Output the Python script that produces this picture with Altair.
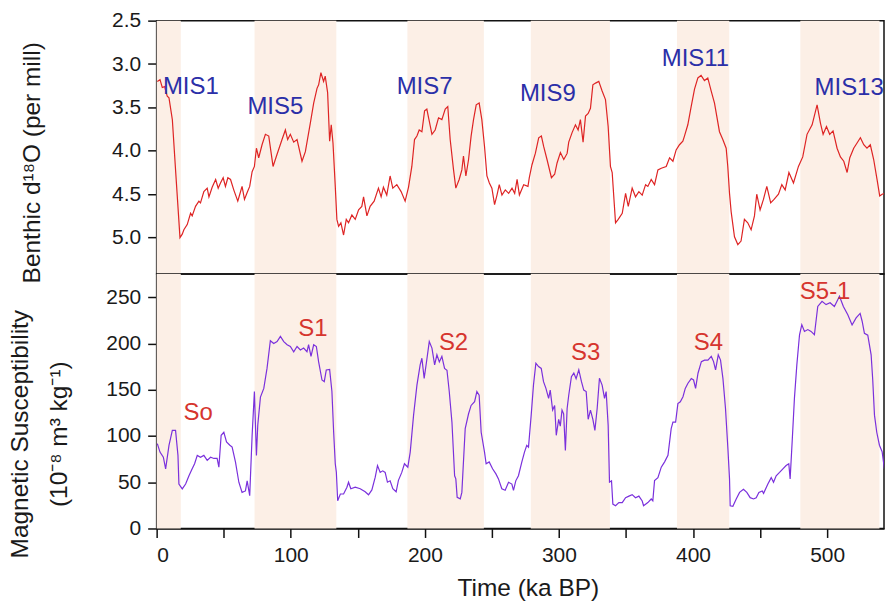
import altair as alt
import pandas as pd

# ---------------- data ----------------
benthic_age = [0.5, 2.5, 4.2, 5.9, 7.9, 9.2, 11.7, 14.1, 17.4, 19.1, 20.3, 22.8, 25.3, 26.5, 29.0, 31.5, 32.7, 35.2,
               37.7, 39.0, 41.4, 44.0, 45.9, 47.6, 49.6, 51.3, 53.1, 55.1, 57.5, 60.5, 62.0, 63.7, 65.5, 67.5, 69.4,
               71.2, 72.9, 74.4, 76.1, 78.6, 81.1, 83.6, 86.8, 89.8, 93.5, 96.0, 97.7, 99.7, 102.2, 104.7, 108.4,
               110.9, 114.6, 117.1, 119.6, 120.8, 122.5, 124.5, 125.7, 127.5, 129.0, 130.2, 131.5, 133.2, 134.4,
               135.7, 137.4, 139.4, 141.4, 143.1, 145.6, 148.1, 150.6, 153.0, 154.3, 156.8, 159.2, 162.2, 165.4,
               167.4, 169.1, 171.6, 174.1, 176.1, 179.1, 181.5, 182.3, 185.3, 187.8, 190.3, 192.3, 194.1, 195.8,
               197.8, 199.8, 201.5, 202.8, 205.3, 207.7, 210.2, 212.7, 215.2, 217.1, 218.9, 221.4, 223.1, 225.6,
               227.6, 228.8, 230.6, 232.6, 234.5, 236.3, 238.3, 240.5, 242.5, 244.5, 246.3, 248.1, 250.0, 252.0,
               253.8, 255.5, 257.5, 260.0, 262.5, 265.0, 267.0, 268.8, 270.5, 273.7, 276.9, 277.9, 279.9, 282.4,
               284.9, 286.9, 288.6, 291.1, 294.4, 296.8, 298.6, 301.1, 303.6, 306.1, 307.3, 309.8, 312.3, 314.3,
               316.0, 318.0, 319.8, 321.8, 323.5, 325.3, 327.3, 329.7, 332.2, 334.7, 336.7, 338.4, 339.7, 342.2,
               344.2, 347.2, 349.7, 351.7, 354.6, 357.1, 359.6, 362.1, 364.6, 366.3, 368.8, 371.3, 373.8, 376.3,
               380.0, 382.5, 385.0, 387.4, 389.9, 392.4, 393.6, 396.1, 398.6, 401.1, 403.6, 406.0, 408.5, 411.0,
               413.5, 416.0, 419.7, 422.2, 424.7, 425.9, 427.2, 428.4, 430.9, 433.4, 435.8, 438.3, 440.8, 443.3,
               445.8, 447.5, 450.0, 452.5, 455.0, 457.9, 460.4, 463.7, 466.2, 468.7, 471.5, 474.9, 478.6, 481.8,
               485.0, 488.8, 492.5, 495.0, 497.0, 499.5, 501.9, 504.4, 507.4, 509.9, 512.4, 514.9, 516.9, 519.8,
               522.3, 524.8, 527.3, 529.7, 532.2, 534.7, 537.2, 539.2, 541.0, 543.4]
benthic_d18o = [3.20, 3.18, 3.27, 3.26, 3.37, 3.39, 3.64, 4.22, 5.00, 4.96, 4.91, 4.85, 4.72, 4.75, 4.64, 4.58, 4.60,
                4.47, 4.43, 4.53, 4.42, 4.33, 4.43, 4.37, 4.31, 4.41, 4.31, 4.33, 4.45, 4.58, 4.50, 4.41, 4.56, 4.48,
                4.41, 4.24, 4.18, 3.97, 4.08, 3.93, 3.81, 3.83, 4.18, 4.04, 3.87, 3.76, 3.87, 3.81, 3.90, 3.87, 4.12,
                4.01, 3.68, 3.45, 3.28, 3.24, 3.10, 3.20, 3.14, 3.33, 3.89, 3.70, 3.91, 4.41, 4.79, 4.87, 4.83, 4.97,
                4.79, 4.83, 4.74, 4.79, 4.68, 4.64, 4.53, 4.75, 4.64, 4.58, 4.43, 4.53, 4.42, 4.51, 4.29, 4.43, 4.39,
                4.45, 4.47, 4.58, 4.42, 4.18, 3.87, 3.83, 3.76, 3.78, 3.54, 3.52, 3.62, 3.81, 3.76, 3.62, 3.64, 3.52,
                3.49, 3.87, 4.22, 4.43, 4.33, 4.22, 4.06, 4.29, 4.10, 3.83, 3.64, 3.47, 3.45, 3.64, 3.95, 4.29, 4.37,
                4.43, 4.62, 4.51, 4.39, 4.51, 4.45, 4.49, 4.43, 4.49, 4.33, 4.51, 4.39, 4.41, 4.31, 4.16, 4.03, 3.85,
                3.83, 3.95, 4.10, 4.31, 4.27, 4.14, 4.02, 4.10, 4.03, 3.90, 3.79, 3.70, 3.76, 3.64, 3.90, 3.60, 3.57,
                3.51, 3.24, 3.22, 3.20, 3.31, 3.41, 3.72, 4.18, 4.25, 4.83, 4.79, 4.72, 4.49, 4.64, 4.43, 4.53, 4.47,
                4.51, 4.39, 4.41, 4.33, 4.39, 4.22, 4.20, 4.18, 4.08, 4.12, 3.99, 3.93, 3.89, 3.83, 3.70, 3.49, 3.29,
                3.16, 3.13, 3.19, 3.16, 3.31, 3.45, 3.78, 3.87, 3.97, 4.18, 4.49, 4.70, 4.99, 5.08, 5.04, 4.79, 4.83,
                4.91, 4.75, 4.50, 4.68, 4.56, 4.41, 4.60, 4.56, 4.50, 4.39, 4.45, 4.25, 4.37, 4.18, 4.07, 3.81, 3.70,
                3.47, 3.68, 3.81, 3.72, 3.81, 3.77, 3.97, 4.07, 4.12, 4.25, 4.08, 3.97, 3.91, 3.85, 3.93, 3.97, 3.93,
                4.10, 4.33, 4.52, 4.50, 4.49]

ms_age = [0.5, 2.5, 5.0, 6.7, 9.2, 11.7, 14.1, 15.9, 16.6, 19.1, 21.6, 24.1, 26.5, 28.3, 30.3, 32.7, 35.2, 37.7,
          40.2, 42.7, 45.1, 46.4, 48.1, 50.1, 52.1, 54.6, 56.3, 58.8, 61.3, 63.7, 66.2, 67.5, 69.4, 71.2, 72.9,
          74.4, 75.4, 77.4, 79.9, 82.3, 84.8, 87.3, 89.8, 92.3, 94.8, 97.3, 99.7, 102.2, 104.7, 107.2, 109.6,
          112.1, 113.3, 115.1, 117.1, 119.1, 120.8, 123.3, 125.0, 126.5, 129.0, 130.7, 132.0, 133.2, 134.0,
          135.0, 137.0, 139.4, 141.9, 143.1, 144.8, 148.1, 151.8, 155.5, 158.0, 160.5, 163.0, 164.7, 166.7,
          168.6, 170.4, 172.1, 174.1, 176.1, 178.6, 180.3, 182.8, 184.8, 187.3, 189.1, 191.6, 194.1, 196.5,
          197.8, 199.5, 201.1, 203.3, 205.3, 207.3, 209.0, 210.8, 212.7, 214.7, 216.5, 218.2, 220.2, 222.2,
          223.1, 224.1, 226.4, 227.6, 230.1, 232.6, 234.5, 237.1, 238.8, 240.5, 242.0, 244.5, 245.7, 248.0,
          250.5, 253.0, 254.9, 257.4, 259.9, 262.4, 264.9, 266.1, 267.8, 269.8, 272.3, 274.3, 276.0, 277.3,
          279.3, 281.0, 282.8, 284.8, 286.8, 288.5, 290.3, 292.3, 293.5, 295.3, 296.8, 298.0, 299.8, 301.0,
          302.3, 303.5, 304.8, 306.1, 307.3, 309.3, 311.1, 312.8, 314.8, 316.8, 318.5, 320.3, 321.8, 323.5,
          325.3, 326.8, 328.5, 330.2, 332.2, 334.0, 335.2, 336.7, 337.7, 339.2, 340.2, 342.2, 344.7, 347.2,
          349.7, 352.2, 354.6, 357.1, 359.6, 362.1, 363.1, 366.3, 368.8, 370.0, 371.3, 373.8, 376.3, 378.8,
          381.3, 383.7, 385.0, 387.0, 388.7, 390.5, 392.5, 394.2, 396.2, 398.7, 400.4, 401.9, 403.7, 406.2,
          408.6, 411.1, 413.6, 415.3, 416.8, 418.8, 420.5, 422.3, 424.2, 426.0, 427.2, 427.7, 429.7, 432.2,
          434.7, 437.6, 440.1, 442.6, 445.1, 447.1, 449.1, 451.6, 452.6, 455.8, 458.3, 460.0, 462.0, 464.5,
          467.0, 469.4, 471.4, 472.4, 473.9, 475.6, 477.4, 479.4, 481.1, 483.1, 485.6, 488.0, 490.5, 493.0,
          496.2, 499.2, 502.2, 505.4, 509.2, 512.1, 515.4, 518.6, 521.6, 524.6, 526.1, 527.8, 530.3, 532.8,
          534.0, 535.3, 537.0, 539.0, 541.0, 542.7]
ms_value = [91.7, 82.6, 77, 64.5, 89.9, 106, 106, 79, 48, 42.8, 48, 57, 64.5, 70, 79, 77, 79, 73.6, 77, 75.7,
            75.7, 66.3, 100.7, 104, 93.5, 90, 88, 71.7, 50, 39, 40.6, 51.5, 35.5, 100.7, 148, 79, 111.6, 142,
            151.4, 173, 203, 200, 202, 207.6, 202, 198.6, 196.7, 191, 196.7, 193, 195, 191, 198.6, 186, 198.6,
            196.7, 180, 160.5, 158.7, 171.4, 172, 148, 104, 70, 61, 30, 37.3, 37.3, 44.6, 50, 43, 44.6, 43,
            39.7, 36.4, 41.7, 55.4, 68, 60.6, 62.3, 60.6, 50, 51.5, 43, 39.7, 52, 60.6, 70, 66.3, 82.6, 122.5,
            155, 176.8, 184, 162.3, 178.6, 202, 195, 176.8, 187.7, 180, 186, 173, 171, 148, 115, 57, 53.6,
            33.7, 32, 39, 108, 124, 133, 137, 148, 144, 104, 82.6, 70, 72, 64.5, 59, 53.6, 43, 41.3, 50, 48,
            41.3, 51.5, 57, 71.7, 82.6, 89.9, 88, 122.5, 155, 178.6, 175, 173, 158.7, 151.5, 140.6, 149.6, 128,
            133, 100.7, 118, 110.7, 128, 124, 84.4, 129.7, 144, 164, 168, 162, 171.4, 158.7, 149.6, 148, 118,
            128, 118, 106, 129.7, 162.3, 155, 140.6, 148, 111.6, 50, 51.5, 26.4, 24.6, 28, 28, 33.3, 35, 36.6,
            33.3, 35, 29.7, 24.6, 28, 31.9, 30, 51.8, 55, 66.3, 72, 79, 108, 115, 115, 135, 137, 142.4, 151.4,
            157, 162, 160.5, 151.4, 167.8, 180.4, 182, 182, 186, 180.4, 171.4, 187.7, 182, 162, 129.7, 86.2,
            53.6, 24.6, 24, 31.9, 39, 42.4, 39, 33.3, 31.9, 33.3, 39, 40.6, 38, 48, 55, 50, 57, 60.6, 64.5, 68,
            70, 53.6, 93.5, 140.6, 176.8, 209.4, 220.3, 213, 215, 213, 209.4, 240, 245.6, 242, 244, 240, 251,
            240, 231, 220, 227.6, 232.5, 224, 211, 209, 187.7, 160.5, 122.5, 104, 90, 83, 64.5]

band_start = [0, 73, 187, 279, 388, 480]
band_end = [18, 134, 244, 338, 427, 539]

mis_labels = ["MIS1", "MIS5", "MIS7", "MIS9", "MIS11", "MIS13"]
mis_age = [25.5, 88.5, 199.8, 291.7, 401.8, 516.4]
mis_d18o = [3.27, 3.49, 3.27, 3.35, 2.94, 3.28]

s_labels = ["So", "S1", "S2", "S3", "S4", "S5-1"]
s_age = [30.9, 116.6, 221.4, 320.0, 411.5, 498.5]
s_value = [125, 216, 201, 190, 200, 256]

d18o_ticks = [2.5, 3.0, 3.5, 4.0, 4.5, 5.0]
ms_ticks = [0, 50, 100, 150, 200, 250]
age_ticks = [0, 50, 100, 150, 200, 250, 300, 350, 400, 450, 500]

# ---------------- tables ----------------
benthic = pd.DataFrame({"age": benthic_age, "d18o": benthic_d18o})
ms = pd.DataFrame({"age": ms_age, "ms": ms_value})
bands = pd.DataFrame({"start": band_start, "end": band_end})
mis = pd.DataFrame({"age": mis_age, "d18o": mis_d18o, "label": mis_labels})
soils = pd.DataFrame({"age": s_age, "ms": s_value, "label": s_labels})

FONT = "Liberation Sans"
BAND = "#fcefe6"
RED = "#de2424"
PURPLE = "#7a30dc"
BLUE = "#2b2fa8"
LABEL_RED = "#d6352e"

W = 729
xscale = alt.Scale(domain=[0, 542.4], nice=False, zero=False)

# ---------------- top panel ----------------
top_bands = alt.Chart(bands).mark_rect(color=BAND).encode(
    x=alt.X("start:Q", scale=xscale, axis=None),
    x2="end:Q",
)
top_line = alt.Chart(benthic).mark_line(color=RED, strokeWidth=1.2, clip=True).encode(
    x=alt.X("age:Q", scale=xscale, axis=None),
    y=alt.Y(
        "d18o:Q",
        scale=alt.Scale(domain=[2.5, 5.42], reverse=True, nice=False, zero=False),
        axis=alt.Axis(
            values=d18o_ticks, format=".1f",
            title="Benthic d¹⁸O (per mill)",
            titleX=-124, titleY=142, titleAngle=270,
            titleAlign="center", titleBaseline="middle",
        ),
    ),
)
top_text = alt.Chart(mis).mark_text(color=BLUE, font=FONT, fontSize=24, align="center",
                                    baseline="middle").encode(
    x=alt.X("age:Q", scale=xscale, axis=None),
    y=alt.Y("d18o:Q"),
    text="label:N",
)
top = alt.layer(top_bands, top_line, top_text).properties(width=W, height=254)

# ---------------- bottom panel ----------------
bot_bands = alt.Chart(bands).mark_rect(color=BAND).encode(
    x=alt.X("start:Q", scale=xscale),
    x2="end:Q",
)
bot_line = alt.Chart(ms).mark_line(color=PURPLE, strokeWidth=1.2, clip=True).encode(
    x=alt.X(
        "age:Q", scale=xscale,
        axis=alt.Axis(
            values=age_ticks, title="Time (ka BP)",
            labelExpr="datum.value % 100 == 0 ? datum.label : ''",
            labelPadding=7, titlePadding=11, titleX=372,
        ),
    ),
    y=alt.Y(
        "ms:Q",
        scale=alt.Scale(domain=[0, 275], nice=False, zero=True),
        axis=alt.Axis(
            values=ms_ticks,
            title=["Magnetic Susceptibility", "(10⁻⁸ m³ kg⁻¹)"],
            titleX=-136, titleY=160, titleAngle=270, titleLineHeight=39,
            titleAlign="center", titleBaseline="middle",
        ),
    ),
)
bot_text = alt.Chart(soils).mark_text(color=LABEL_RED, font=FONT, fontSize=24, align="center",
                                      baseline="middle").encode(
    x=alt.X("age:Q", scale=xscale),
    y=alt.Y("ms:Q"),
    text="label:N",
)
bottom = alt.layer(bot_bands, bot_line, bot_text).properties(width=W, height=255)

chart = alt.vconcat(top, bottom, spacing=0, bounds="flush").properties(
    padding={"left": 7, "top": 8, "right": 0, "bottom": 0},
    background="white",
).configure_view(
    stroke="#111", strokeWidth=1.5,
).configure_axis(
    labelFont=FONT, titleFont=FONT, labelFontSize=21, titleFontSize=24.5,
    titleFontWeight="normal", labelColor="#1a1a1a", titleColor="#1a1a1a",
    domainColor="#111", tickColor="#111", domainWidth=1.5, tickWidth=1.5,
    tickSize=9, labelPadding=7, grid=False,
)

chart.save("out.html", embed_options={"renderer": "svg", "actions": False})
